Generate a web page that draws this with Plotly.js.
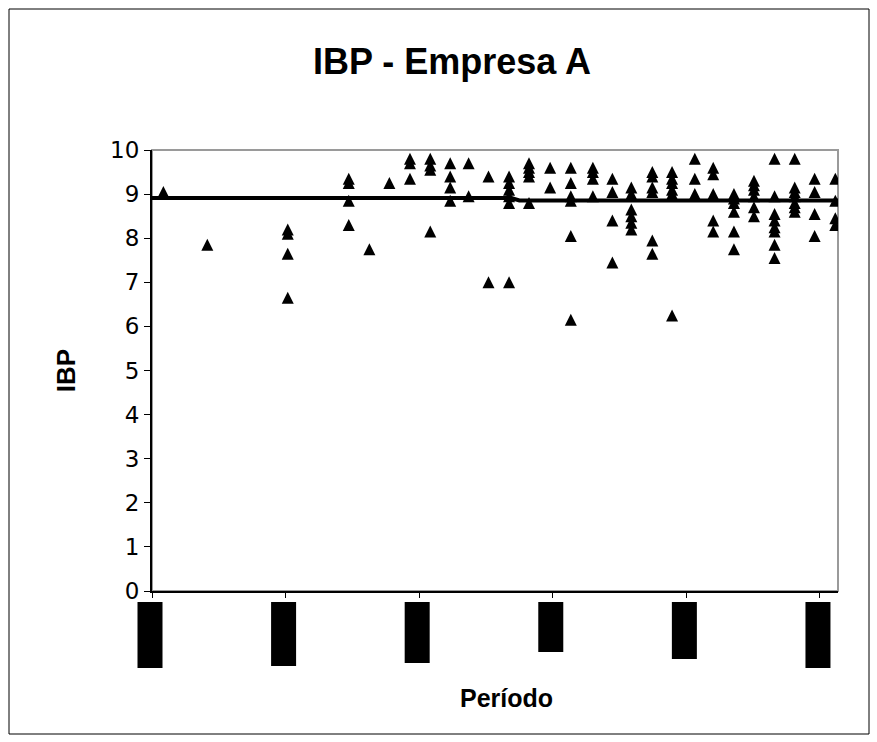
<!DOCTYPE html>
<html>
<head>
<meta charset="utf-8">
<script src="https://cdn.plot.ly/plotly-3.0.1.min.js"></script>
<style>
  html, body { margin: 0; padding: 0; background: #fff; }
  #chart { width: 877px; height: 742px; }
</style>
</head>
<body>
<div id="chart"></div>
<script>
// ---- data ----
var periodo = [
  0.85,
  4.14,
  10.16, 10.16, 10.16, 10.16,
  14.73, 14.73, 14.73, 14.73,
  16.27,
  17.77,
  19.31, 19.31, 19.31,
  20.83, 20.83, 20.83, 20.83,
  22.32, 22.32, 22.32, 22.32,
  23.70, 23.70,
  25.19, 25.19,
  26.73, 26.73, 26.73, 26.73, 26.73, 26.73,
  28.22, 28.22, 28.22, 28.22, 28.22,
  29.80, 29.80,
  31.35, 31.35, 31.35, 31.35, 31.35, 31.35,
  33.00, 33.00, 33.00, 33.00,
  34.46, 34.46, 34.46, 34.46,
  35.88, 35.88, 35.88, 35.88, 35.88, 35.88,
  37.45, 37.45, 37.45, 37.45, 37.45, 37.45,
  38.93, 38.93, 38.93, 38.93, 38.93, 38.93,
  40.63, 40.63, 40.63,
  42.01, 42.01, 42.01, 42.01, 42.01,
  43.56, 43.56, 43.56, 43.56, 43.56, 43.56,
  45.06, 45.06, 45.06, 45.06, 45.06, 45.06,
  46.60, 46.60, 46.60, 46.60, 46.60, 46.60, 46.60, 46.60,
  48.11, 48.11, 48.11, 48.11, 48.11, 48.11, 48.11,
  49.60, 49.60, 49.60, 49.60,
  51.15, 51.15, 51.15, 51.15
];
var ibp = [
  9.05,
  7.85,
  8.2, 8.1, 7.65, 6.65,
  9.35, 9.25, 8.85, 8.3,
  7.75,
  9.25,
  9.8, 9.7, 9.35,
  9.8, 9.65, 9.55, 8.15,
  9.7, 9.4, 9.15, 8.85,
  9.7, 8.95,
  9.4, 7.0,
  9.4, 9.25, 9.1, 8.95, 8.8, 7.0,
  9.7, 9.6, 9.5, 9.4, 8.8,
  9.6, 9.15,
  9.6, 9.25, 8.95, 8.85, 8.05, 6.15,
  9.6, 9.5, 9.35, 8.95,
  9.35, 9.05, 8.4, 7.45,
  9.15, 9.0, 8.65, 8.5, 8.35, 8.2,
  9.5, 9.4, 9.15, 9.05, 7.95, 7.65,
  9.5, 9.35, 9.25, 9.1, 9.0, 6.25,
  9.8, 9.35, 9.0,
  9.6, 9.45, 9.0, 8.4, 8.15,
  9.0, 8.9, 8.8, 8.6, 8.15, 7.75,
  9.3, 9.2, 9.1, 8.95, 8.7, 8.5,
  9.8, 8.95, 8.55, 8.4, 8.25, 8.15, 7.85, 7.55,
  9.8, 9.15, 9.05, 8.95, 8.8, 8.7, 8.6,
  9.35, 9.05, 8.55, 8.05,
  9.35, 8.85, 8.45, 8.3
];
var mediaX = [0, 26.9, 27.5, 51.35];
var mediaY = [8.91, 8.91, 8.855, 8.855];
var periodTicks = [0, 10, 20, 30, 40, 50];
var yTicks = [0, 1, 2, 3, 4, 5, 6, 7, 8, 9, 10];
var yTickText = ['0', '1', '2', '3', '4', '5', '6', '7', '8', '9', '10'];
// the reference shows its period labels as solid black blocks (unreadable);
// their lengths, in pixels from the axis
var labelBlockLen = [66, 64, 61, 50, 57, 66];

// ---- layout helpers ----
var W = 877, H = 742;
var L = 152, R = 838, T = 150, B = 591;
var xRange = [0, 51.35];
function pxX(p) { return (p - L) / (R - L); }
function pxY(p) { return (B - p) / (B - T); }
function dataToPaperX(v) { return (v - xRange[0]) / (xRange[1] - xRange[0]); }

var shapes = [];
// outer chart frame
shapes.push({type: 'rect', xref: 'paper', yref: 'paper',
  x0: pxX(9), x1: pxX(869), y0: pxY(734), y1: pxY(9),
  line: {color: '#000', width: 1}, fillcolor: 'rgba(0,0,0,0)', layer: 'below'});
// plot area border (grey)
shapes.push({type: 'rect', xref: 'paper', yref: 'paper',
  x0: 0, x1: 1, y0: 0, y1: 1,
  line: {color: '#9a9a9a', width: 2}, fillcolor: 'rgba(0,0,0,0)', layer: 'below'});
// label blocks under each period tick
var blockW = 25 / (R - L);
var blockTop = pxY(602);
for (var i = 0; i < periodTicks.length; i++) {
  var cx = dataToPaperX(periodTicks[i]) - 2 / (R - L);
  shapes.push({type: 'rect', xref: 'paper', yref: 'paper',
    x0: cx - blockW / 2, x1: cx + blockW / 2,
    y0: blockTop - labelBlockLen[i] / (B - T), y1: blockTop,
    line: {width: 0}, fillcolor: '#000', layer: 'above'});
}

var traces = [
  {
    x: mediaX, y: mediaY, type: 'scatter', mode: 'lines',
    line: {color: '#000', width: 4}, hoverinfo: 'skip', showlegend: false
  },
  {
    x: periodo, y: ibp, type: 'scatter', mode: 'markers',
    marker: {symbol: 'arrow-down', angle: 180, standoff: 6, size: 12,
             color: '#000', line: {width: 0}},
    showlegend: false
  }
];

var layout = {
  width: W, height: H,
  margin: {l: L, r: W - R, t: T, b: H - B, pad: 0},
  paper_bgcolor: '#fff', plot_bgcolor: '#fff',
  showlegend: false,
  title: {
    text: '<b>IBP - Empresa A</b>',
    font: {family: 'Liberation Sans, Arial, sans-serif', size: 36, color: '#000'},
    xref: 'container', yref: 'container',
    x: 452 / W, xanchor: 'center', y: 1 - 61 / H, yanchor: 'middle'
  },
  xaxis: {
    range: xRange, tickvals: periodTicks, showticklabels: false,
    ticks: 'outside', ticklen: 5, tickwidth: 1, tickcolor: '#000',
    showline: true, linecolor: '#000', linewidth: 2,
    showgrid: false, zeroline: false, fixedrange: true
  },
  yaxis: {
    range: [0, 10], tickvals: yTicks, ticktext: yTickText,
    ticks: 'outside', ticklen: 6, tickwidth: 1, tickcolor: '#000',
    tickfont: {family: 'DejaVu Sans, Verdana, sans-serif', size: 23, color: '#000'},
    showline: true, linecolor: '#000', linewidth: 2,
    showgrid: false, zeroline: false, fixedrange: true,
    title: {text: '<b>IBP</b>', standoff: 27,
      font: {family: 'Liberation Sans, Arial, sans-serif', size: 26, color: '#000'}}
  },
  annotations: [{
    text: '<b>Período</b>', showarrow: false,
    xref: 'paper', yref: 'paper', x: pxX(506), y: pxY(698),
    xanchor: 'center', yanchor: 'middle',
    font: {family: 'Liberation Sans, Arial, sans-serif', size: 25, color: '#000'}
  }],
  shapes: shapes
};

Plotly.newPlot('chart', traces, layout, {staticPlot: true, displayModeBar: false});
</script>
</body>
</html>
